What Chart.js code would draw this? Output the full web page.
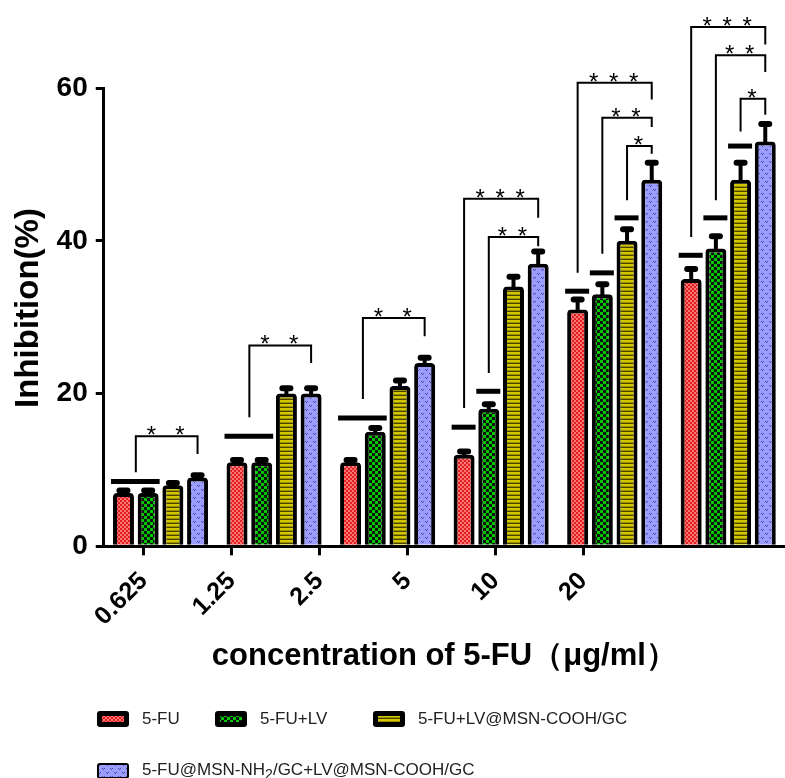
<!DOCTYPE html>
<html>
<head>
<meta charset="utf-8">
<script src="https://cdn.jsdelivr.net/npm/chart.js@4.4.1/dist/chart.umd.min.js"></script>
<style>
  body { margin: 0; background: #fff; }
  #wrap { position: relative; width: 785px; height: 778px; }
  .key { position: absolute; display: flex; align-items: center; font: 17px "Liberation Sans", Arial, sans-serif; color: #222; white-space: nowrap; }
  .key canvas { margin-right: 13px; }
</style>
</head>
<body>
<div id="wrap">
  <canvas id="chart" width="785" height="778"></canvas>
</div>
<script>
const groups = ["0.625", "1.25", "2.5", "5", "10", "20"];
const seriesNames = ["5-FU", "5-FU+LV", "5-FU+LV@MSN-COOH/GC", "5-FU@MSN-NH<sub>2</sub>/GC+LV@MSN-COOH/GC"];

const fuOnly = [7, 11, 11, 12, 31, 35];
const fuLv = [7, 11, 15, 18, 33, 39];
const fuLvCooh = [8, 20, 21, 34, 40, 48];
const fuNh2LvCooh = [9, 20, 24, 37, 48, 53];

const errFuOnly = [0.3, 0.3, 0.3, 0.4, 1.3, 1.3];
const errFuLv = [0.3, 0.3, 0.5, 0.6, 1.3, 1.6];
const errFuLvCooh = [0.3, 0.7, 0.7, 1.3, 1.5, 2.2];
const errFuNh2LvCooh = [0.3, 0.7, 0.7, 1.6, 2.2, 2.3];

// thick marks over bars: [group, first bar, last bar, value]
const sigMarks = [
  [0, 0, 1, 8.5], [1, 0, 1, 14.4], [2, 0, 1, 16.8],
  [3, 0, 0, 15.6], [3, 1, 1, 20.3],
  [4, 0, 0, 33.4], [4, 1, 1, 35.8], [4, 2, 2, 43],
  [5, 0, 0, 38.1], [5, 1, 1, 43], [5, 2, 2, 52.4]
];

// brackets: [group, left bar a, left bar b, right bar, left end, top, right end, stars]
const brackets = [
  [0, 0, 1, 3, 9.7, 14.4, 12.1, "*  *"],
  [1, 0, 1, 3, 16.9, 26.3, 24, "*  *"],
  [2, 0, 1, 3, 19.3, 29.9, 27.5, "*  *"],
  [3, 0, 0, 3, 18.1, 45.5, 43, "* * *"],
  [3, 1, 1, 3, 22.7, 40.5, 39.3, "* *"],
  [4, 0, 0, 3, 35.8, 60.7, 58.5, "* * *"],
  [4, 1, 1, 3, 38.3, 56.1, 54.9, "* *"],
  [4, 2, 2, 3, 45.3, 52.4, 51.4, "*"],
  [5, 0, 0, 3, 40.5, 68, 65.7, "* * *"],
  [5, 1, 1, 3, 45.3, 64.3, 62.1, "* *"],
  [5, 2, 2, 3, 54.3, 58.6, 56.5, "*"]
];

const values = [fuOnly, fuLv, fuLvCooh, fuNh2LvCooh];
const errors = [errFuOnly, errFuLv, errFuLvCooh, errFuNh2LvCooh];

const FONT = '"Liberation Sans", Arial, sans-serif';
Chart.defaults.font.family = FONT;
Chart.defaults.color = "#000";

function tile(w, h, paint) {
  const c = document.createElement("canvas");
  c.width = w;
  c.height = h;
  paint(c.getContext("2d"));
  return c;
}

const tiles = [
  tile(4, 4, (g) => {
    g.fillStyle = "#ff7474"; g.fillRect(0, 0, 4, 4);
    g.fillStyle = "#e02020"; g.fillRect(0, 0, 2, 2); g.fillRect(2, 2, 2, 2);
  }),
  tile(6, 6, (g) => {
    g.fillStyle = "#111"; g.fillRect(0, 0, 6, 6);
    g.fillStyle = "#00c800"; g.fillRect(0, 0, 3, 3); g.fillRect(3, 3, 3, 3);
  }),
  tile(4, 4, (g) => {
    g.fillStyle = "#d4c700"; g.fillRect(0, 0, 4, 4);
    g.fillStyle = "#9a8f00"; g.fillRect(0, 2, 4, 1);
    g.fillStyle = "#4a4300"; g.fillRect(0, 3, 4, 1);
  }),
  tile(8, 8, (g) => {
    g.fillStyle = "#9c9cff"; g.fillRect(0, 0, 8, 8);
    g.fillStyle = "#4a4a9a";
    [[1, 1], [3, 1], [2, 2], [5, 5], [7, 5], [6, 6]].forEach(([x, y]) => g.fillRect(x, y, 1, 1));
  })
];

const canvas = document.getElementById("chart");
const mainCtx = canvas.getContext("2d");
const patterns = tiles.map((t) => mainCtx.createPattern(t, "repeat"));

const annotate = {
  id: "annotate",
  afterDatasetsDraw(chart) {
    const ctx = chart.ctx;
    const y = chart.scales.y;
    const bar = (s, g) => chart.getDatasetMeta(s).data[g];
    ctx.save();
    ctx.strokeStyle = "#000";
    ctx.fillStyle = "#000";

    // error bars
    values.forEach((series, s) => {
      series.forEach((v, g) => {
        const b = bar(s, g);
        const top = y.getPixelForValue(v + errors[s][g]);
        ctx.lineWidth = 4;
        ctx.beginPath();
        ctx.moveTo(b.x, b.y + 2);
        ctx.lineTo(b.x, top);
        ctx.stroke();
        ctx.beginPath();
        ctx.roundRect(b.x - 7, top - 3, 14, 6, 3);
        ctx.fill();
      });
    });

    // thick marks
    ctx.lineWidth = 5;
    sigMarks.forEach(([g, a, z, v]) => {
      const b1 = bar(a, g);
      const b2 = bar(z, g);
      const py = y.getPixelForValue(v);
      ctx.beginPath();
      ctx.moveTo(b1.x - b1.width / 2 - 2, py);
      ctx.lineTo(b2.x + b2.width / 2 + 1, py);
      ctx.stroke();
    });

    // brackets and stars
    ctx.font = "24px " + FONT;
    ctx.textAlign = "center";
    ctx.textBaseline = "alphabetic";
    ctx.letterSpacing = "2px";
    brackets.forEach(([g, a, z, r, yl, yt, yr, stars]) => {
      const xl = (bar(a, g).x + bar(z, g).x) / 2;
      const xr = bar(r, g).x;
      const pt = y.getPixelForValue(yt);
      ctx.lineWidth = 2;
      ctx.beginPath();
      ctx.moveTo(xl, y.getPixelForValue(yl));
      ctx.lineTo(xl, pt);
      ctx.lineTo(xr, pt);
      ctx.lineTo(xr, y.getPixelForValue(yr));
      ctx.stroke();
      ctx.fillText(stars, (xl + xr) / 2, pt + 7);
    });
    ctx.restore();
  }
};

new Chart(canvas, {
  type: "bar",
  data: {
    labels: groups,
    datasets: values.map((data, i) => ({
      label: seriesNames[i],
      data: data,
      backgroundColor: patterns[i],
      borderColor: "#000",
      borderWidth: 4,
      borderRadius: { topLeft: 4, topRight: 4 },
      borderSkipped: "start",
      categoryPercentage: 0.87,
      barPercentage: 0.85
    }))
  },
  options: {
    responsive: false,
    animation: false,
    events: [],
    layout: { padding: { top: 88, left: 7, right: 0, bottom: 99 } },
    plugins: { legend: { display: false }, tooltip: { enabled: false } },
    scales: {
      x: { display: false, offset: true },
      x2: {
        type: "linear",
        position: "bottom",
        offset: false,
        min: -0.4545,
        max: 7.295,
        afterBuildTicks: (scale) => {
          scale.ticks = groups.map((_, i) => ({ value: i }));
        },
        grid: { offset: false, drawOnChartArea: false, tickLength: 9, lineWidth: 3, color: "#000" },
        border: { display: true, width: 3, color: "#000" },
        ticks: {
          autoSkip: false,
          minRotation: 45,
          maxRotation: 45,
          padding: 11,
          font: { size: 25, weight: "bold" },
          callback: (v) => groups[v] ?? ""
        },
        title: {
          display: true,
          text: "concentration of 5-FU（μg/ml）",
          font: { size: 31, weight: "bold" },
          padding: { top: -5, bottom: 4 }
        }
      },
      y: {
        min: 0,
        max: 60,
        grid: { drawOnChartArea: false, tickLength: 8, lineWidth: 3, color: "#000" },
        border: { display: true, width: 3, color: "#000" },
        ticks: { stepSize: 20, padding: 8, font: { size: 28, weight: "bold" } },
        title: {
          display: true,
          text: "  Inhibition(%)",
          font: { size: 33, weight: "bold" },
          padding: { top: 2, bottom: 0 }
        }
      }
    }
  },
  plugins: [annotate]
});

// legend below the chart
const keySpots = [[97, 711], [215, 711], [373, 711], [97, 762]];
const wrap = document.getElementById("wrap");
seriesNames.forEach((name, i) => {
  const item = document.createElement("div");
  item.className = "key";
  item.style.left = keySpots[i][0] + "px";
  item.style.top = keySpots[i][1] - 2 + "px";
  const sw = document.createElement("canvas");
  sw.width = 32;
  sw.height = 16;
  const g = sw.getContext("2d");
  g.fillStyle = "#000";
  g.beginPath();
  g.roundRect(0, 0, 32, 16, 3);
  g.fill();
  g.fillStyle = g.createPattern(tiles[i], "repeat");
  g.fillRect(i === 3 ? 2 : 5, i === 3 ? 2 : 5, i === 3 ? 28 : 22, i === 3 ? 12 : 6);
  const label = document.createElement("span");
  label.innerHTML = name;
  item.appendChild(sw);
  item.appendChild(label);
  wrap.appendChild(item);
});
</script>
</body>
</html>
